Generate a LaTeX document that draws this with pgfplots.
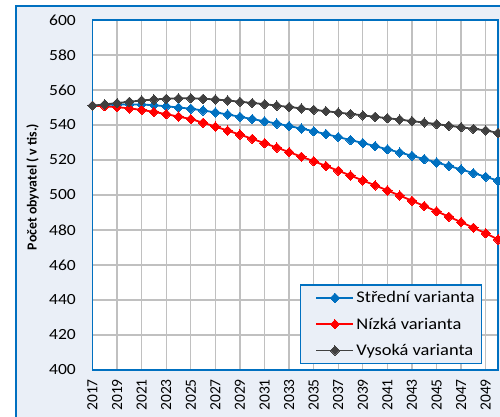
\documentclass[border=0pt]{standalone}
\usepackage{fontspec}
\setmainfont{Carlito}[FakeStretch=1.13]
\newfontfamily\rotfont{Carlito}
\usepackage{pgfplots}
\usepackage{pgfplotstable}
\pgfplotsset{compat=1.18}
\definecolor{bgcol}{RGB}{234,239,247}
\definecolor{frameblue}{RGB}{0,112,192}
\definecolor{gridgray}{RGB}{192,192,192}
\definecolor{sblue}{RGB}{0,112,192}
\definecolor{sred}{RGB}{255,0,0}
\definecolor{sdark}{RGB}{64,64,64}

\pgfplotstableread{
year stredni nizka vysoka
2017 551.0 551.0 551.0
2018 551.4 550.7 551.8
2019 551.7 550.2 552.5
2020 551.8 549.5 553.3
2021 551.7 548.6 554.0
2022 551.3 547.5 554.6
2023 550.7 546.2 555.0
2024 550.0 544.8 555.3
2025 549.3 543.4 555.3
2026 548.3 541.3 555.0
2027 547.2 539.1 554.6
2028 546.0 536.8 554.0
2029 544.7 534.5 553.3
2030 543.4 532.1 552.6
2031 542.1 529.6 551.9
2032 540.8 527.1 551.1
2033 539.4 524.5 550.3
2034 538.0 521.9 549.5
2035 536.4 519.3 548.7
2036 534.8 516.6 547.9
2037 533.1 513.9 547.1
2038 531.4 511.1 546.3
2039 529.7 508.3 545.5
2040 527.9 505.5 544.7
2041 526.1 502.6 543.9
2042 524.3 499.7 543.1
2043 522.4 496.7 542.2
2044 520.5 493.7 541.4
2045 518.6 490.7 540.5
2046 516.6 487.6 539.6
2047 514.6 484.5 538.7
2048 512.5 481.3 537.8
2049 510.4 478.1 536.9
2050 508.2 474.6 535.5
}\datatable

\begin{document}
\begin{tikzpicture}
\useasboundingbox (0pt,0pt) rectangle (500pt,417pt);
\clip (0pt,0pt) rectangle (500pt,417pt);
\fill[white] (0pt,0pt) rectangle (500pt,417pt);
\draw[frameblue, line width=1.5pt, fill=bgcol] (16pt,411pt) -- (16pt,-20pt) -- (520pt,-20pt) -- (520pt,411pt) -- cycle;
\begin{axis}[
  at={(92.5pt,47pt)}, anchor=south west,
  scale only axis,
  width=405.5pt, height=350pt,
  xmin=2017, xmax=2050,
  ymin=400, ymax=600,
  xtick={2017,2019,...,2049},
  ytick={400,420,...,600},
  grid=major,
  major grid style={gridgray, line width=1.3pt},
  major tick length=0pt,
  axis line style={frameblue, line width=1.5pt},
  axis background/.style={fill=white},
  clip=false,
  /pgf/number format/1000 sep={},
  /pgf/number format/assume math mode=true,
  xticklabel style={font=\rotfont\fontsize{15.5}{15.5}\selectfont, rotate=90, anchor=east, inner xsep=9pt},
  yticklabel style={font=\fontsize{15.5}{15.5}\selectfont, anchor=east, inner xsep=16.5pt},
  ylabel={\rotfont\bfseries Počet obyvatel ( v tis.)},
  ylabel style={font=\fontsize{13.8}{13.8}\selectfont, at={(axis description cs:-0.148,0.523)}, anchor=center, rotate=0},
  legend style={at={(axis description cs:0.5117,0.0171)}, anchor=south west,
    draw=frameblue, line width=1.2pt, fill=bgcol,
    font=\fontsize{16.3}{16.3}\selectfont,
    inner xsep=5pt, inner ysep=4.5pt, row sep=9.5pt,
    cells={anchor=west}},
  legend image code/.code={\path (-10pt,0pt); \draw[mark repeat=2,mark phase=2,#1] plot coordinates {(0pt,0pt)(18.5pt,0pt)(37pt,0pt)};},
]
\addplot[sblue, line width=1.8pt, mark=square*, mark size=3.3pt, mark options={rotate=45, solid, line width=0pt}] table[x=year, y=stredni] {\datatable};
\addlegendentry{Střední varianta}
\addplot[sred, line width=1.8pt, mark=square*, mark size=3.3pt, mark options={rotate=45, solid, line width=0pt}] table[x=year, y=nizka] {\datatable};
\addlegendentry{Nízká varianta}
\addplot[sdark, line width=1.8pt, mark=square*, mark size=3.3pt, mark options={rotate=45, solid, line width=0pt}] table[x=year, y=vysoka] {\datatable};
\addlegendentry{Vysoká varianta}
\end{axis}
\end{tikzpicture}
\end{document}
